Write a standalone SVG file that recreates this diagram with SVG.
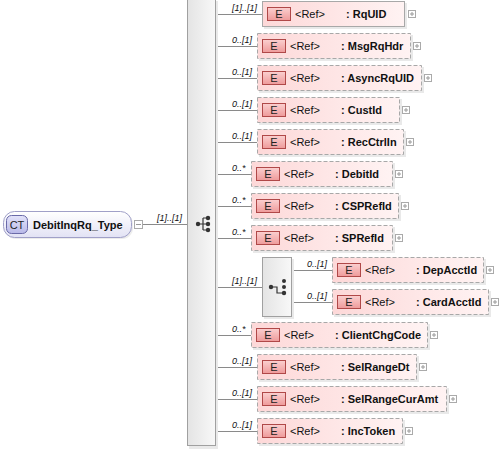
<svg xmlns="http://www.w3.org/2000/svg" width="499" height="451" viewBox="0 0 499 451">
<defs>
<linearGradient id="gEl" x1="0" y1="0" x2="1" y2="0"><stop offset="0" stop-color="#fdd8d8"/><stop offset="1" stop-color="#fff3f3"/></linearGradient>
<linearGradient id="gE" x1="0" y1="0" x2="0" y2="1"><stop offset="0" stop-color="#fbd0d0"/><stop offset="1" stop-color="#ee9a9a"/></linearGradient>
<linearGradient id="gBar" x1="0" y1="0" x2="1" y2="0"><stop offset="0" stop-color="#e4e4e4"/><stop offset="1" stop-color="#f8f8f8"/></linearGradient>
<linearGradient id="gCT" x1="0" y1="0" x2="0" y2="1"><stop offset="0" stop-color="#ffffff"/><stop offset="1" stop-color="#e2e2f4"/></linearGradient>
<linearGradient id="gCTb" x1="0" y1="0" x2="0" y2="1"><stop offset="0" stop-color="#e4e4fa"/><stop offset="1" stop-color="#b8b8e8"/></linearGradient>
</defs>
<style>
.el{fill:url(#gEl);stroke:#a8a8a8;stroke-width:1}
.opt{stroke-dasharray:4,2}
.sh{fill:#e9e9e9}
.eb{fill:url(#gE);stroke:#b04848;stroke-width:1}
.et{font-family:"Liberation Sans",Arial,sans-serif;font-size:11px;fill:#222;text-anchor:middle}
.ref{font-family:"Liberation Sans",Arial,sans-serif;font-size:11px;fill:#111}
.nm{font-family:"Liberation Sans",Arial,sans-serif;font-size:11px;font-weight:bold;fill:#111}
.lb{font-family:"Liberation Sans",Arial,sans-serif;font-size:9px;font-style:italic;fill:#111}
.pb{fill:#fff;stroke:#aaa;stroke-width:1}
.pl{stroke:#999;stroke-width:1}
.cn{stroke:#8a8a8a;stroke-width:1;fill:none}
.bar{fill:url(#gBar);stroke:#a0a0a0;stroke-width:1}
.ic{fill:#333}
.icl{stroke:#333;stroke-width:1.2;fill:none}
</style>

<g id="connectors">
<line class="cn" x1="143" y1="224.5" x2="187" y2="224.5"/>
<line class="cn" x1="216" y1="14.5" x2="262" y2="14.5"/>
<line class="cn" x1="216" y1="46.5" x2="257" y2="46.5"/>
<line class="cn" x1="216" y1="78.5" x2="257" y2="78.5"/>
<line class="cn" x1="216" y1="110.5" x2="257" y2="110.5"/>
<line class="cn" x1="216" y1="142.5" x2="257" y2="142.5"/>
<line class="cn" x1="216" y1="174.5" x2="251" y2="174.5"/>
<line class="cn" x1="216" y1="206.5" x2="251" y2="206.5"/>
<line class="cn" x1="216" y1="238.5" x2="251" y2="238.5"/>
<line class="cn" x1="216" y1="287.5" x2="262" y2="287.5"/>
<line class="cn" x1="292" y1="270.5" x2="332" y2="270.5"/>
<line class="cn" x1="292" y1="302.5" x2="332" y2="302.5"/>
<line class="cn" x1="216" y1="335.5" x2="251" y2="335.5"/>
<line class="cn" x1="216" y1="367.5" x2="257" y2="367.5"/>
<line class="cn" x1="216" y1="399.5" x2="257" y2="399.5"/>
<line class="cn" x1="216" y1="431.5" x2="257" y2="431.5"/>
<text class="lb" x="157" y="221">[1]..[1]</text>
<text class="lb" x="232" y="11">[1]..[1]</text>
<text class="lb" x="232" y="43">0..[1]</text>
<text class="lb" x="232" y="75">0..[1]</text>
<text class="lb" x="232" y="107">0..[1]</text>
<text class="lb" x="232" y="139">0..[1]</text>
<text class="lb" x="232" y="171">0..*</text>
<text class="lb" x="232" y="203">0..*</text>
<text class="lb" x="232" y="235">0..*</text>
<text class="lb" x="232" y="284">[1]..[1]</text>
<text class="lb" x="307" y="267">0..[1]</text>
<text class="lb" x="307" y="299">0..[1]</text>
<text class="lb" x="232" y="332">0..*</text>
<text class="lb" x="232" y="364">0..[1]</text>
<text class="lb" x="232" y="396">0..[1]</text>
<text class="lb" x="232" y="428">0..[1]</text>
</g>

<g id="DebitInqRq_Type">
<rect x="5" y="213" width="128" height="26" rx="11" fill="#ececec"/>
<rect x="3.5" y="211.5" width="128" height="26" rx="11" fill="url(#gCT)" stroke="#a0a0c8"/>
<rect x="6.5" y="215.5" width="21" height="18" rx="5" fill="url(#gCTb)" stroke="#6a6aa8"/>
<text x="17" y="229" class="et">CT</text>
<text x="33" y="228.5" class="nm">DebitInqRq_Type</text>
<rect x="134.5" y="220.5" width="8" height="8" class="pb"/>
<line x1="136" y1="224.5" x2="141" y2="224.5" class="pl"/>
</g>

<g id="sequence">
<rect x="189" y="1" width="29" height="448" class="sh"/>
<rect x="187.5" y="-1.5" width="28" height="447" class="bar"/>
<circle cx="198" cy="224" r="2.2" class="ic"/>
<path d="M198 224H203M203 218V230M203 218H208M203 224H208M203 230H208" class="icl"/>
<circle cx="208" cy="218" r="2.2" class="ic"/>
<circle cx="208" cy="224" r="2.2" class="ic"/>
<circle cx="208" cy="230" r="2.2" class="ic"/>
</g>

<g id="choice">
<rect x="264" y="259" width="30" height="60" class="sh"/>
<rect x="262.5" y="257.5" width="29" height="59" class="bar"/>
<circle cx="271" cy="287" r="2.2" class="ic"/>
<path d="M271 287H277V293H284" class="icl"/>
<circle cx="284" cy="281" r="2" class="ic"/>
<circle cx="284" cy="287" r="2" class="ic"/>
<circle cx="284" cy="293" r="2.2" class="ic"/>
</g>

<g id="RqUID">
<rect x="264" y="3" width="143" height="26" class="sh"/>
<rect x="262.5" y="1.5" width="142" height="25" class="el"/>
<rect x="267.5" y="7.5" width="23" height="13" class="eb"/><text x="279" y="18" class="et">E</text>
<text x="295" y="18" class="ref">&lt;Ref&gt;</text><text x="346" y="18" class="nm">: RqUID</text>
<rect x="408.5" y="10.5" width="7" height="7" class="pb"/><path d="M410 14H414M412 12V16" class="pl"/>
</g>

<g id="MsgRqHdr">
<rect x="259" y="35" width="154" height="26" class="sh"/>
<rect x="257.5" y="33.5" width="153" height="25" class="el opt"/>
<rect x="262.5" y="39.5" width="23" height="13" class="eb"/><text x="274" y="50" class="et">E</text>
<text x="290" y="50" class="ref">&lt;Ref&gt;</text><text x="341" y="50" class="nm">: MsgRqHdr</text>
<rect x="413.5" y="42.5" width="7" height="7" class="pb"/><path d="M415 46H419M417 44V48" class="pl"/>
</g>

<g id="AsyncRqUID">
<rect x="259" y="67" width="165" height="26" class="sh"/>
<rect x="257.5" y="65.5" width="164" height="25" class="el opt"/>
<rect x="262.5" y="71.5" width="23" height="13" class="eb"/><text x="274" y="82" class="et">E</text>
<text x="290" y="82" class="ref">&lt;Ref&gt;</text><text x="341" y="82" class="nm">: AsyncRqUID</text>
<rect x="424.5" y="74.5" width="7" height="7" class="pb"/><path d="M426 78H430M428 76V80" class="pl"/>
</g>

<g id="CustId">
<rect x="259" y="99" width="143" height="26" class="sh"/>
<rect x="257.5" y="97.5" width="142" height="25" class="el opt"/>
<rect x="262.5" y="103.5" width="23" height="13" class="eb"/><text x="274" y="114" class="et">E</text>
<text x="290" y="114" class="ref">&lt;Ref&gt;</text><text x="341" y="114" class="nm">: CustId</text>
<rect x="402.5" y="106.5" width="7" height="7" class="pb"/><path d="M404 110H408M406 108V112" class="pl"/>
</g>

<g id="RecCtrlIn">
<rect x="259" y="131" width="147" height="26" class="sh"/>
<rect x="257.5" y="129.5" width="146" height="25" class="el opt"/>
<rect x="262.5" y="135.5" width="23" height="13" class="eb"/><text x="274" y="146" class="et">E</text>
<text x="290" y="146" class="ref">&lt;Ref&gt;</text><text x="341" y="146" class="nm">: RecCtrlIn</text>
<rect x="406.5" y="138.5" width="7" height="7" class="pb"/><path d="M408 142H412M410 140V144" class="pl"/>
</g>

<g id="DebitId">
<rect x="253" y="163" width="142" height="26" class="sh"/>
<rect x="251.5" y="161.5" width="141" height="25" class="el opt"/>
<rect x="256.5" y="167.5" width="23" height="13" class="eb"/><text x="268" y="178" class="et">E</text>
<text x="284" y="178" class="ref">&lt;Ref&gt;</text><text x="335" y="178" class="nm">: DebitId</text>
<rect x="395.5" y="170.5" width="7" height="7" class="pb"/><path d="M397 174H401M399 172V176" class="pl"/>
</g>

<g id="CSPRefId">
<rect x="253" y="195" width="148" height="26" class="sh"/>
<rect x="251.5" y="193.5" width="147" height="25" class="el opt"/>
<rect x="256.5" y="199.5" width="23" height="13" class="eb"/><text x="268" y="210" class="et">E</text>
<text x="284" y="210" class="ref">&lt;Ref&gt;</text><text x="335" y="210" class="nm">: CSPRefId</text>
<rect x="401.5" y="202.5" width="7" height="7" class="pb"/><path d="M403 206H407M405 204V208" class="pl"/>
</g>

<g id="SPRefId">
<rect x="253" y="227" width="142" height="26" class="sh"/>
<rect x="251.5" y="225.5" width="141" height="25" class="el opt"/>
<rect x="256.5" y="231.5" width="23" height="13" class="eb"/><text x="268" y="242" class="et">E</text>
<text x="284" y="242" class="ref">&lt;Ref&gt;</text><text x="335" y="242" class="nm">: SPRefId</text>
<rect x="395.5" y="234.5" width="7" height="7" class="pb"/><path d="M397 238H401M399 236V240" class="pl"/>
</g>

<g id="DepAcctId">
<rect x="334" y="259" width="152" height="26" class="sh"/>
<rect x="332.5" y="257.5" width="151" height="25" class="el opt"/>
<rect x="337.5" y="263.5" width="23" height="13" class="eb"/><text x="349" y="274" class="et">E</text>
<text x="365" y="274" class="ref">&lt;Ref&gt;</text><text x="416" y="274" class="nm">: DepAcctId</text>
<rect x="486.5" y="266.5" width="7" height="7" class="pb"/><path d="M488 270H492M490 268V272" class="pl"/>
</g>

<g id="CardAcctId">
<rect x="334" y="291" width="157" height="26" class="sh"/>
<rect x="332.5" y="289.5" width="156" height="25" class="el opt"/>
<rect x="337.5" y="295.5" width="23" height="13" class="eb"/><text x="349" y="306" class="et">E</text>
<text x="365" y="306" class="ref">&lt;Ref&gt;</text><text x="416" y="306" class="nm">: CardAcctId</text>
<rect x="491.5" y="298.5" width="7" height="7" class="pb"/><path d="M493 302H497M495 300V304" class="pl"/>
</g>

<g id="ClientChgCode">
<rect x="253" y="324" width="177" height="26" class="sh"/>
<rect x="251.5" y="322.5" width="176" height="25" class="el opt"/>
<rect x="256.5" y="328.5" width="23" height="13" class="eb"/><text x="268" y="339" class="et">E</text>
<text x="284" y="339" class="ref">&lt;Ref&gt;</text><text x="335" y="339" class="nm">: ClientChgCode</text>
<rect x="430.5" y="331.5" width="7" height="7" class="pb"/><path d="M432 335H436M434 333V337" class="pl"/>
</g>

<g id="SelRangeDt">
<rect x="259" y="356" width="160" height="26" class="sh"/>
<rect x="257.5" y="354.5" width="159" height="25" class="el opt"/>
<rect x="262.5" y="360.5" width="23" height="13" class="eb"/><text x="274" y="371" class="et">E</text>
<text x="290" y="371" class="ref">&lt;Ref&gt;</text><text x="341" y="371" class="nm">: SelRangeDt</text>
<rect x="419.5" y="363.5" width="7" height="7" class="pb"/><path d="M421 367H425M423 365V369" class="pl"/>
</g>

<g id="SelRangeCurAmt">
<rect x="259" y="388" width="190" height="26" class="sh"/>
<rect x="257.5" y="386.5" width="189" height="25" class="el opt"/>
<rect x="262.5" y="392.5" width="23" height="13" class="eb"/><text x="274" y="403" class="et">E</text>
<text x="290" y="403" class="ref">&lt;Ref&gt;</text><text x="341" y="403" class="nm">: SelRangeCurAmt</text>
<rect x="449.5" y="395.5" width="7" height="7" class="pb"/><path d="M451 399H455M453 397V401" class="pl"/>
</g>

<g id="IncToken">
<rect x="259" y="420" width="146" height="26" class="sh"/>
<rect x="257.5" y="418.5" width="145" height="25" class="el opt"/>
<rect x="262.5" y="424.5" width="23" height="13" class="eb"/><text x="274" y="435" class="et">E</text>
<text x="290" y="435" class="ref">&lt;Ref&gt;</text><text x="341" y="435" class="nm">: IncToken</text>
<rect x="405.5" y="427.5" width="7" height="7" class="pb"/><path d="M407 431H411M409 429V433" class="pl"/>
</g>
</svg>
